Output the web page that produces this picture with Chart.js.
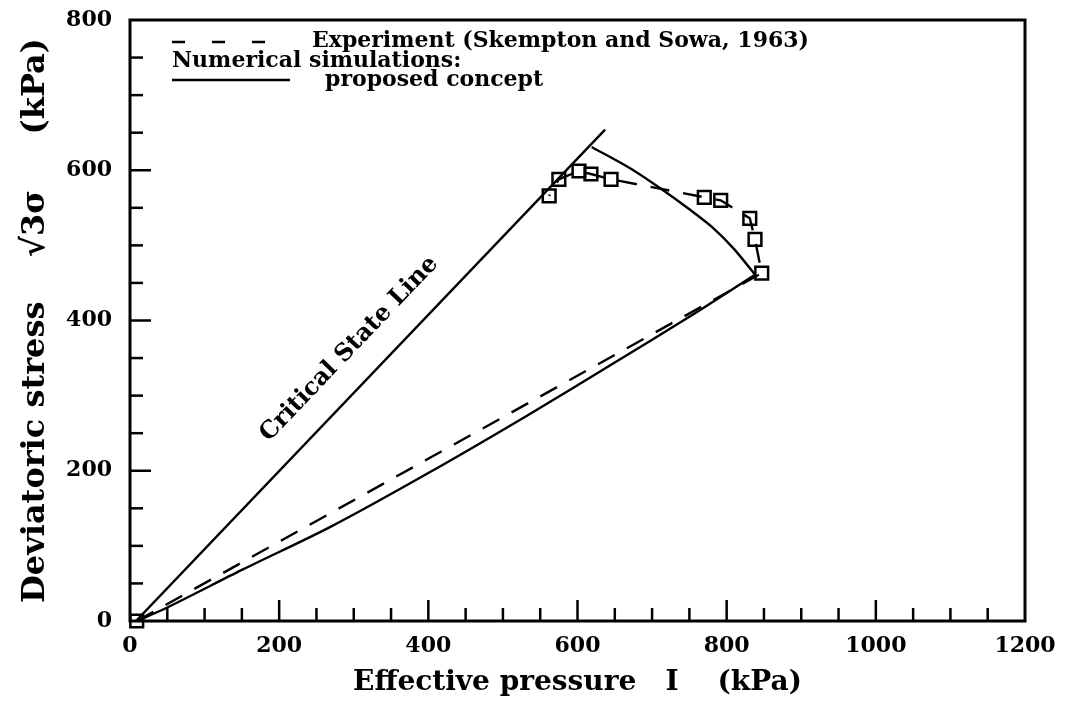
<!DOCTYPE html>
<html>
<head>
<meta charset="utf-8">
<script src="https://cdn.jsdelivr.net/npm/chart.js@4/dist/chart.umd.min.js"></script>
<style>
  html, body { margin: 0; padding: 0; background: #fff; }
  #wrap { width: 1070px; height: 711px; }
</style>
</head>
<body>
<div id="wrap"><canvas id="c" width="1070" height="711"></canvas></div>
<script>
// Experimental stress path (Skempton and Sowa, 1963): origin, then the failure region
const expPressure = [9, 847, 838, 831, 792, 770, 645, 618, 602, 575, 562];
const expStress   = [0, 463, 508, 536, 560, 564, 588, 595, 599, 588, 566];

// Numerical simulation, loading branch up to the yield surface
const simLoadPressure = [9, 50, 150, 270, 400, 530, 650, 750, 838];
const simLoadStress   = [0, 18, 68, 126, 197, 272, 344, 405, 461];

// Numerical simulation, softening branch up to the critical state line
const simCapPressure = [838, 810, 782, 750, 711, 670, 619];
const simCapStress   = [461, 495, 523, 548, 576, 603, 631];

// Critical state line
const cslPressure = [8, 637];
const cslStress   = [0, 654];

// Axis ticks
const xTickStep = 50, xLabelStep = 200, xMax = 1200;
const yTickStep = 50, yLabelStep = 200, yMax = 800;

const pts = (xs, ys) => xs.map((v, i) => ({ x: v, y: ys[i] }));

const SERIF = '"DejaVu Serif", "Liberation Serif", serif';
Chart.defaults.font.family = SERIF;
Chart.defaults.color = '#000';

// Box frame, inward ticks, legend block and the critical state line label
const decorations = {
  id: 'decorations',
  afterDraw(chart) {
    const { ctx, chartArea: a, scales: { x, y } } = chart;
    ctx.save();
    ctx.strokeStyle = '#000';
    ctx.lineCap = 'butt';

    // inward ticks on bottom and left axes
    ctx.lineWidth = 2.5;
    for (let v = xTickStep; v < xMax; v += xTickStep) {
      const px = x.getPixelForValue(v);
      const len = v % xLabelStep === 0 ? 21 : 13;
      ctx.beginPath(); ctx.moveTo(px, a.bottom); ctx.lineTo(px, a.bottom - len); ctx.stroke();
    }
    for (let v = yTickStep; v < yMax; v += yTickStep) {
      const py = y.getPixelForValue(v);
      const len = v % yLabelStep === 0 ? 21 : 13;
      ctx.beginPath(); ctx.moveTo(a.left, py); ctx.lineTo(a.left + len, py); ctx.stroke();
    }

    // frame
    ctx.lineWidth = 3;
    ctx.strokeRect(a.left, a.top, a.right - a.left, a.bottom - a.top);

    // legend
    ctx.fillStyle = '#000';
    ctx.font = 'bold 22px ' + SERIF;
    ctx.textBaseline = 'middle';
    ctx.textAlign = 'left';
    ctx.lineWidth = 2.5;
    ctx.setLineDash([13, 27]);
    ctx.beginPath(); ctx.moveTo(172, 42); ctx.lineTo(268, 42); ctx.stroke();
    ctx.setLineDash([]);
    ctx.fillText('Experiment (Skempton and Sowa, 1963)', 312, 41);
    ctx.fillText('Numerical simulations:', 172, 61);
    ctx.beginPath(); ctx.moveTo(172, 80); ctx.lineTo(290, 80); ctx.stroke();
    ctx.fillText('proposed concept', 325, 80);

    // critical state line label, parallel to the line
    const x0 = x.getPixelForValue(cslPressure[0]), y0 = y.getPixelForValue(cslStress[0]);
    const x1 = x.getPixelForValue(cslPressure[1]), y1 = y.getPixelForValue(cslStress[1]);
    const ang = Math.atan2(y1 - y0, x1 - x0);
    ctx.translate(x.getPixelForValue(294), y.getPixelForValue(362));
    ctx.rotate(ang);
    ctx.font = 'bold 24px ' + SERIF;
    ctx.textAlign = 'center';
    ctx.textBaseline = 'middle';
    ctx.fillText('Critical State Line', 0, 0);
    ctx.restore();
  }
};

new Chart(document.getElementById('c'), {
  type: 'scatter',
  data: {
    datasets: [
      {
        label: 'Critical State Line',
        data: pts(cslPressure, cslStress),
        showLine: true, borderColor: '#000', borderWidth: 2.4,
        pointRadius: 0, tension: 0
      },
      {
        label: 'proposed concept',
        data: pts(simLoadPressure, simLoadStress),
        showLine: true, borderColor: '#000', borderWidth: 2.4,
        pointRadius: 0, tension: 0.3
      },
      {
        label: 'proposed concept (softening)',
        data: pts(simCapPressure, simCapStress),
        showLine: true, borderColor: '#000', borderWidth: 2.4,
        pointRadius: 0, tension: 0.3
      },
      {
        label: 'Experiment (Skempton and Sowa, 1963)',
        data: pts(expPressure, expStress),
        showLine: true, borderColor: '#000', borderWidth: 2.4,
        borderDash: [19, 14],
        pointStyle: 'rect', pointRadius: 9, pointBorderWidth: 2.5,
        pointBackgroundColor: 'rgba(255,255,255,0)', pointBorderColor: '#000',
        tension: 0, clip: false
      }
    ]
  },
  options: {
    responsive: false,
    animation: false,
    devicePixelRatio: 1,
    layout: { padding: { top: 20, right: 45, left: 0, bottom: 0 } },
    plugins: { legend: { display: false }, tooltip: { enabled: false } },
    scales: {
      x: {
        type: 'linear', min: 0, max: xMax,
        grid: { display: false, drawTicks: false },
        border: { display: false },
        ticks: {
          stepSize: xTickStep, autoSkip: false, maxRotation: 0, padding: 12,
          font: { size: 22, weight: 'bold' },
          callback: v => (v % xLabelStep === 0 ? String(v) : '')
        },
        title: {
          display: true, text: 'Effective pressure   I    (kPa)',
          font: { size: 28, weight: 'bold' }, padding: { top: 0, bottom: 11 }
        },
        afterFit: s => { s.height = 90; s.paddingRight = 0; s.paddingLeft = 0; }
      },
      y: {
        type: 'linear', min: 0, max: yMax,
        grid: { display: false, drawTicks: false },
        border: { display: false },
        ticks: {
          stepSize: yTickStep, autoSkip: false, padding: 18,
          font: { size: 22, weight: 'bold' },
          callback: v => (v % yLabelStep === 0 ? String(v) : '')
        },
        title: {
          display: true, text: 'Deviatoric stress    √3σ     (kPa)',
          font: { size: 32, weight: 'bold' }, padding: { top: 16, bottom: 0 }
        },
        afterFit: s => { s.width = 130; s.paddingTop = 0; s.paddingBottom = 0; }
      }
    }
  },
  plugins: [decorations]
});
</script>
</body>
</html>
